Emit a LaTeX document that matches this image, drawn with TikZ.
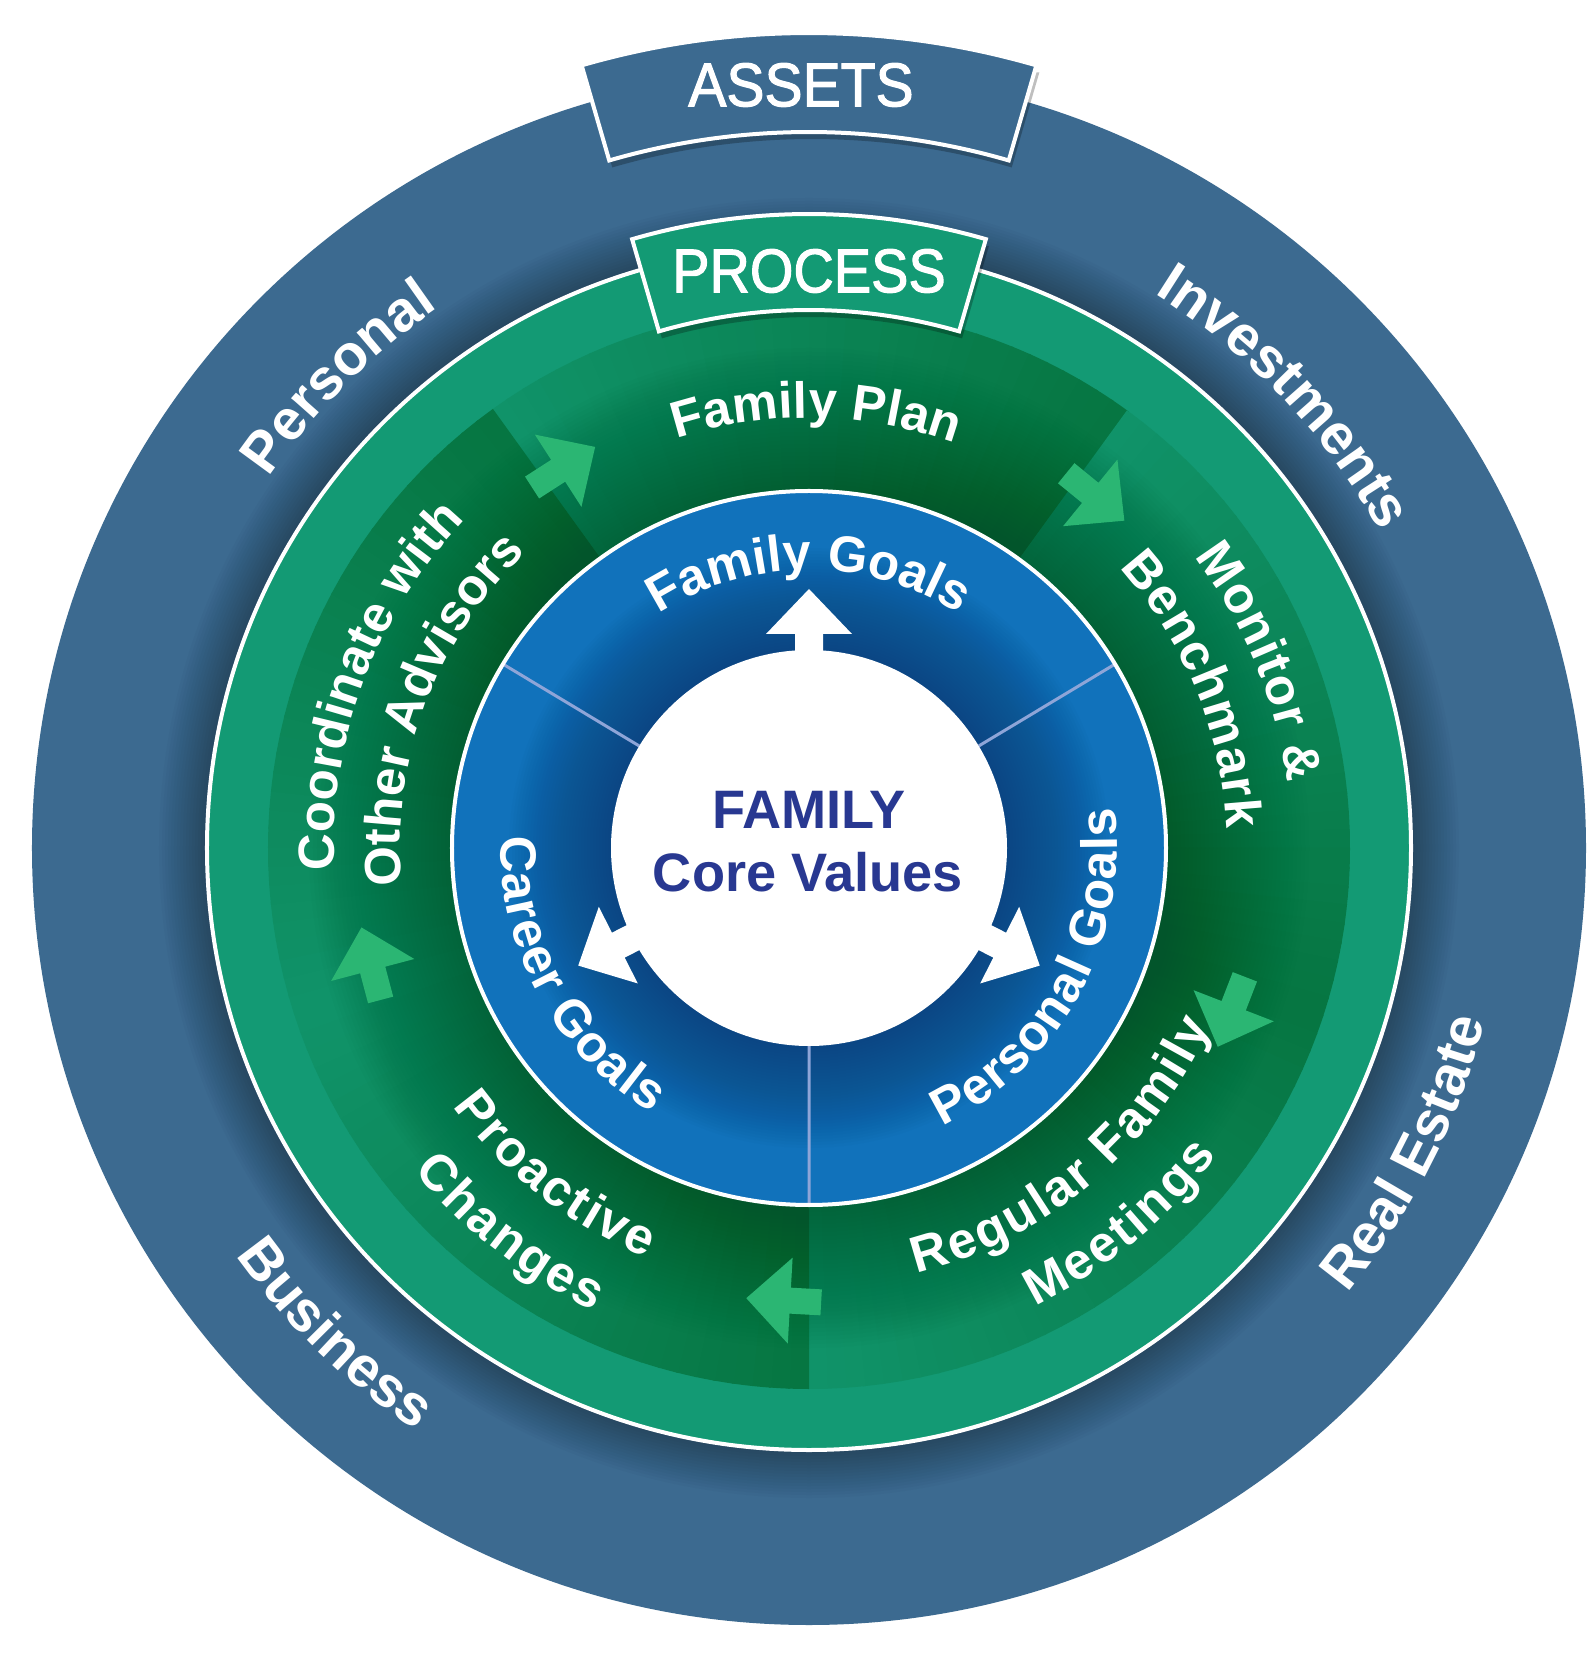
\documentclass[tikz,border=0pt]{standalone}
\usepackage{fontspec}
\usepackage{graphicx}
\setmainfont{Liberation Sans}
\newfontfamily\bannerfam[FakeBold=1.8]{Liberation Sans}
\usetikzlibrary{decorations.text}
\definecolor{outerblue}{HTML}{3C6A90}
\definecolor{ringgreen}{HTML}{139A74}
\definecolor{segL}{HTML}{109369}
\definecolor{segD}{HTML}{067642}
\definecolor{segshade}{HTML}{02552B}
\definecolor{arrowgreen}{HTML}{2BB673}
\definecolor{innerblue}{HTML}{1172BB}
\definecolor{innerdark}{HTML}{0B3F75}
\definecolor{divider}{HTML}{8EA5D8}
\definecolor{familyblue}{HTML}{283891}

\newcommand\outerfont{\fontsize{16.2}{19}\selectfont\bfseries}
\newcommand\segfont{\fontsize{14.5}{17}\selectfont\bfseries}
\newcommand\segfontA{\fontsize{14.5}{17}\selectfont\bfseries\kern0.35pt}
\newcommand\segfontB{\fontsize{14.5}{17}\selectfont\bfseries\kern0.7pt}
\newcommand\bannerfont{\fontsize{16.4}{19}\bannerfam\selectfont}
\newcommand\corefont{\fontsize{15.4}{18}\selectfont\bfseries}

% text reading clockwise, letter tops outward
\newcommand\cwtext[4]{%
  \pgfmathsetmacro\txsa{#2+45}\pgfmathsetmacro\txea{#2-45}%
  \path[decorate, decoration={text along path, text align=center, text color=white, text={|#1|#4}}]
    (\txsa:#3) arc[start angle=\txsa, end angle=\txea, radius=#3];}
% text reading counter-clockwise, letter tops inward
\newcommand\ccwtext[4]{%
  \pgfmathsetmacro\txsa{#2-45}\pgfmathsetmacro\txea{#2+45}%
  \path[decorate, decoration={text along path, text align=center, text color=white, text={|#1|#4}}]
    (\txsa:#3) arc[start angle=\txsa, end angle=\txea, radius=#3];}

\newcommand\segwedges[4]{%
  \foreach \k in {0,...,35}{%
    \pgfmathsetmacro\wa{#1-(#1-#2)*\k/36}%
    \pgfmathsetmacro\wb{#1-(#1-#2)*(\k+1)/36-0.25}%
    \pgfmathtruncatemacro\wp{100-100*\k/35}%
    \fill[#3!\wp!#4] (\wa:357) arc[start angle=\wa, end angle=\wb, radius=357]
      -- (\wb:541) arc[start angle=\wb, end angle=\wa, radius=541] -- cycle;}}

\newcommand\greenarrow[1]{%
  \pgfmathsetmacro\ga{#1-3.2}\pgfmathsetmacro\gr{#1-93.2}%
  \fill[arrowgreen, shift={(\ga:453)}, rotate=\gr]
    (-37.5,-13) -- (-6.5,-13) -- (-6.5,-43) -- (37.5,0) -- (-6.5,43) -- (-6.5,13) -- (-37.5,13) -- cycle;}

\newcommand\whitearrow[1]{%
  \fill[white, rotate=#1] (190,-14) -- (214,-14) -- (214,-43) -- (259,0) -- (214,43) -- (214,14) -- (190,14) -- cycle;}

\begin{document}
\begin{tikzpicture}[x=0.01cm, y=0.01cm]
\useasboundingbox (-809,-810) rectangle (786,848);
\fill[white] (-809,-810) rectangle (786,848);

% outer assets ring
\fill[outerblue] (0,0) circle[radius=777];
\foreach \i in {0,...,15}{\pgfmathsetmacro\rr{650-3*\i}\fill[black, fill opacity=0.02] (0,0) circle[radius=\rr];}

% process ring
\fill[ringgreen] (0,0) circle[radius=602];
\draw[white, line width=0.04cm] (0,0) circle[radius=602];

% process segments
\segwedges{126}{54}{segL}{segD}
\segwedges{54}{-18}{segL}{segD}
\segwedges{-18}{-90}{segD}{segL}
\segwedges{-90}{-162}{segD}{segL}
\segwedges{-162}{-234}{segL}{segD}
\foreach \i in {0,...,35}{\pgfmathsetmacro\rr{500-4*\i}\fill[segshade, fill opacity=0.025] (0,0) circle[radius=\rr];}

% process arrows
\greenarrow{126}
\greenarrow{54}
\greenarrow{-18}
\greenarrow{-90}
\greenarrow{-162}

% goals ring
\fill[innerblue] (0,0) circle[radius=357];
\foreach \i in {0,...,33}{\pgfmathsetmacro\rr{300-3*\i}\fill[innerdark, fill opacity=0.03] (0,0) circle[radius=\rr];}
\draw[divider, line width=0.03cm] (31:198) -- (31:357) (149:198) -- (149:357) (270:198) -- (270:357);
\draw[white, line width=0.04cm] (0,0) circle[radius=357];

% core
\fill[white] (0,0) circle[radius=198];
\whitearrow{90}
\whitearrow{-27}
\whitearrow{207}
\node[anchor=base, text=familyblue, font=\corefont, inner sep=0] (family) at (0,19) {FAMILY};
\node[anchor=base, text=familyblue, font=\corefont, inner sep=0] (corevalues) at (-1,-44) {Core Values};

% banners
\fill[black, fill opacity=0.25] ([shift={(3,-7)}]106.2:538) arc[start angle=106.2, end angle=73.8, radius=538] -- ([shift={(3,-7)}]73.8:634) -- ([shift={(3,-7)}]106.2:634) -- cycle;
\filldraw[fill=ringgreen, draw=white, line width=0.04cm]
  (106.2:538) arc[start angle=106.2, end angle=73.8, radius=538]
  -- (73.8:634) arc[start angle=73.8, end angle=106.2, radius=634] -- cycle;
\node[text=white, font=\bannerfont, inner sep=0] (process) at (0,577) {\scalebox{0.97}[1.07]{PROCESS}};

\fill[black, fill opacity=0.25] ([shift={(3,-7)}]106.2:716) arc[start angle=106.2, end angle=73.8, radius=716] -- ([shift={(3,-7)}]73.8:815) -- ([shift={(3,-7)}]106.2:815) -- cycle;
\filldraw[fill=outerblue, draw=white, line width=0.04cm]
  (106.2:716) arc[start angle=106.2, end angle=73.8, radius=716]
  -- (73.8:815) arc[start angle=73.8, end angle=106.2, radius=815] -- cycle;
\node[text=white, font=\bannerfont, inner sep=0] (assets) at (-8,763) {\scalebox{0.99}[1.07]{ASSETS}};

% asset labels
\cwtext{\outerfont}{135}{655}{Personal}
\cwtext{\outerfont}{43.5}{653}{Investments}
\ccwtext{\outerfont}{225.7}{703}{Business}
\ccwtext{\outerfont}{-27}{698}{Real Estate}

% goals labels
\cwtext{\segfont}{90}{278}{Family Goals}
\ccwtext{\segfontA}{208.5}{308}{Career Goals}
\ccwtext{\segfontA}{-28.5}{308}{Personal Goals}

% process labels
\cwtext{\segfont}{89}{430}{Family Plan}
\cwtext{\segfontA}{22.5}{483}{Monitor {\&}}
\cwtext{\segfontA}{22.5}{418}{Benchmark}
\ccwtext{\segfontB}{-50}{439}{Regular Family}
\ccwtext{\segfontB}{-50.5}{511}{Meetings}
\ccwtext{\segfontB}{232}{440}{Proactive}
\ccwtext{\segfontB}{232}{510}{Changes}
\cwtext{\segfont}{159.5}{475}{Coordinate with}
\cwtext{\segfont}{159.5}{409}{Other Advisors}
\end{tikzpicture}
\end{document}
